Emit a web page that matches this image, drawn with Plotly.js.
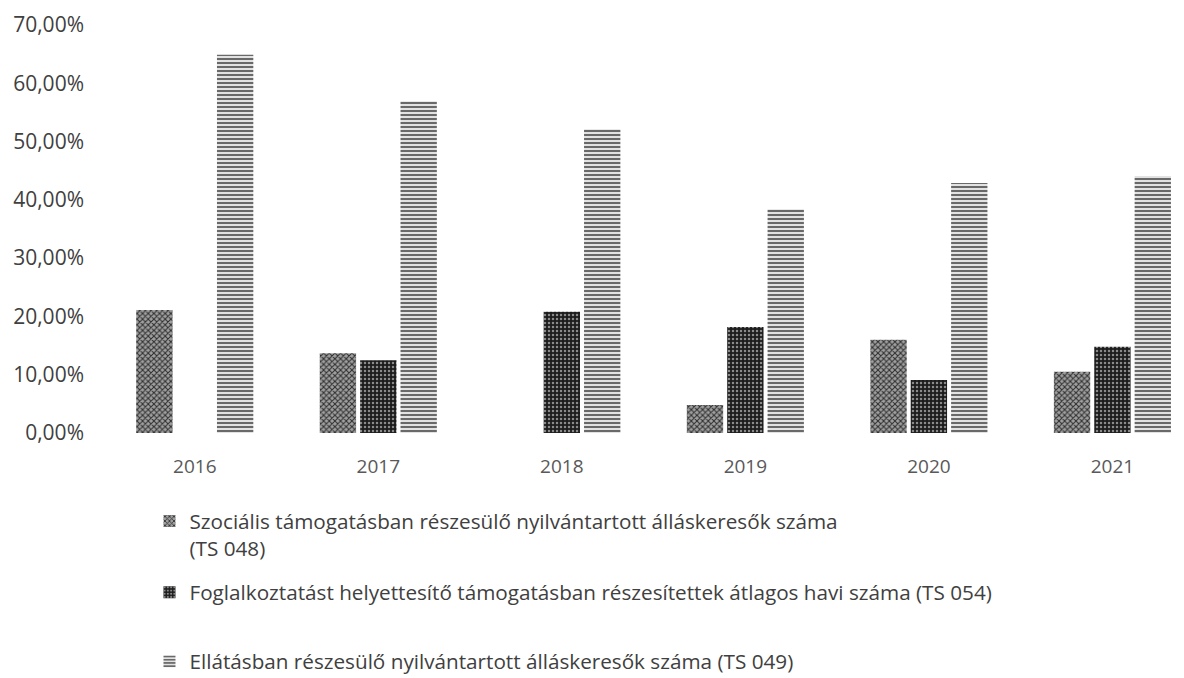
<!DOCTYPE html>
<html>
<head>
<meta charset="utf-8">
<script src="https://cdn.plot.ly/plotly-3.0.1.min.js"></script>
<style>html,body{margin:0;padding:0;background:#fff;}#chart{width:1184px;height:678px;}</style>
</head>
<body>
<div id="chart"></div>
<script>
const years = ["2016", "2017", "2018", "2019", "2020", "2021"];
const seriesNames = [
  "Szociális támogatásban részesülő nyilvántartott álláskeresők száma<br>(TS 048)",
  "Foglalkoztatást helyettesítő támogatásban részesítettek átlagos havi száma (TS 054)",
  "Ellátásban részesülő nyilvántartott álláskeresők száma (TS 049)"
];
const ts048 = [21.1, 13.7, null, 4.8, 16.0, 10.5];
const ts054 = [null, 12.5, 20.8, 18.2, 9.1, 14.8];
const ts049 = [64.9, 56.9, 52.1, 38.4, 42.9, 44.1];
const yTicks = [0, 10, 20, 30, 40, 50, 60, 70];
const yTickLabels = ["0,00%", "10,00%", "20,00%", "30,00%", "40,00%", "50,00%", "60,00%", "70,00%"];

const FONT = "'Open Sans', sans-serif";

const traces = [
  {
    type: "bar", name: seriesNames[0], x: years, y: ts048, legend: "legend",
    marker: {color: "#6e6e6e", line: {width: 0},
      pattern: {shape: "x", fgcolor: "#2e2e2e", bgcolor: "#a0a0a0", size: 4, solidity: 0.45}}
  },
  {
    type: "bar", name: seriesNames[1], x: years, y: ts054, legend: "legend2",
    marker: {color: "#222", line: {width: 0},
      pattern: {shape: ".", fgcolor: "#8a8a8a", bgcolor: "#1c1c1c", size: 4, solidity: 0.3}}
  },
  {
    type: "bar", name: seriesNames[2], x: years, y: ts049, legend: "legend3",
    marker: {color: "#b0b0b0", line: {width: 0},
      pattern: {shape: "-", fgcolor: "#4a4a4a", bgcolor: "#e2e2e2", size: 4, solidity: 0.4}}
  }
];

const legendBase = {
  xanchor: "left", x: 0.043, yref: "container", yanchor: "top",
  bgcolor: "rgba(0,0,0,0)", borderwidth: 0,
  font: {family: FONT, size: 20.7, color: "#404040"}, valign: "top", itemwidth: 30
};

const layout = {
  width: 1184, height: 678,
  margin: {l: 103, r: 0, t: 25, b: 245, autoexpand: false},
  paper_bgcolor: "#fff", plot_bgcolor: "#fff",
  barmode: "group", bargap: 0.34, bargroupgap: 0.1,
  showlegend: true,
  xaxis: {
    type: "category", range: [-0.5, 5.39], showgrid: false, zeroline: false, showline: false,
    ticks: "", ticklabelstandoff: 20,
    tickfont: {family: FONT, size: 19, color: "#595959"}, fixedrange: true
  },
  yaxis: {
    range: [0, 70], tickvals: yTicks, ticktext: yTickLabels,
    showgrid: false, zeroline: false, showline: false, ticks: "", ticklabelstandoff: 18,
    tickfont: {family: FONT, size: 21, color: "#404040"}, fixedrange: true
  },
  legend: Object.assign({}, legendBase, {y: 0.261}),
  legend2: Object.assign({}, legendBase, {y: 0.156}),
  legend3: Object.assign({}, legendBase, {y: 0.054})
};

Plotly.newPlot("chart", traces, layout, {displayModeBar: false, staticPlot: true});
</script>
</body>
</html>
